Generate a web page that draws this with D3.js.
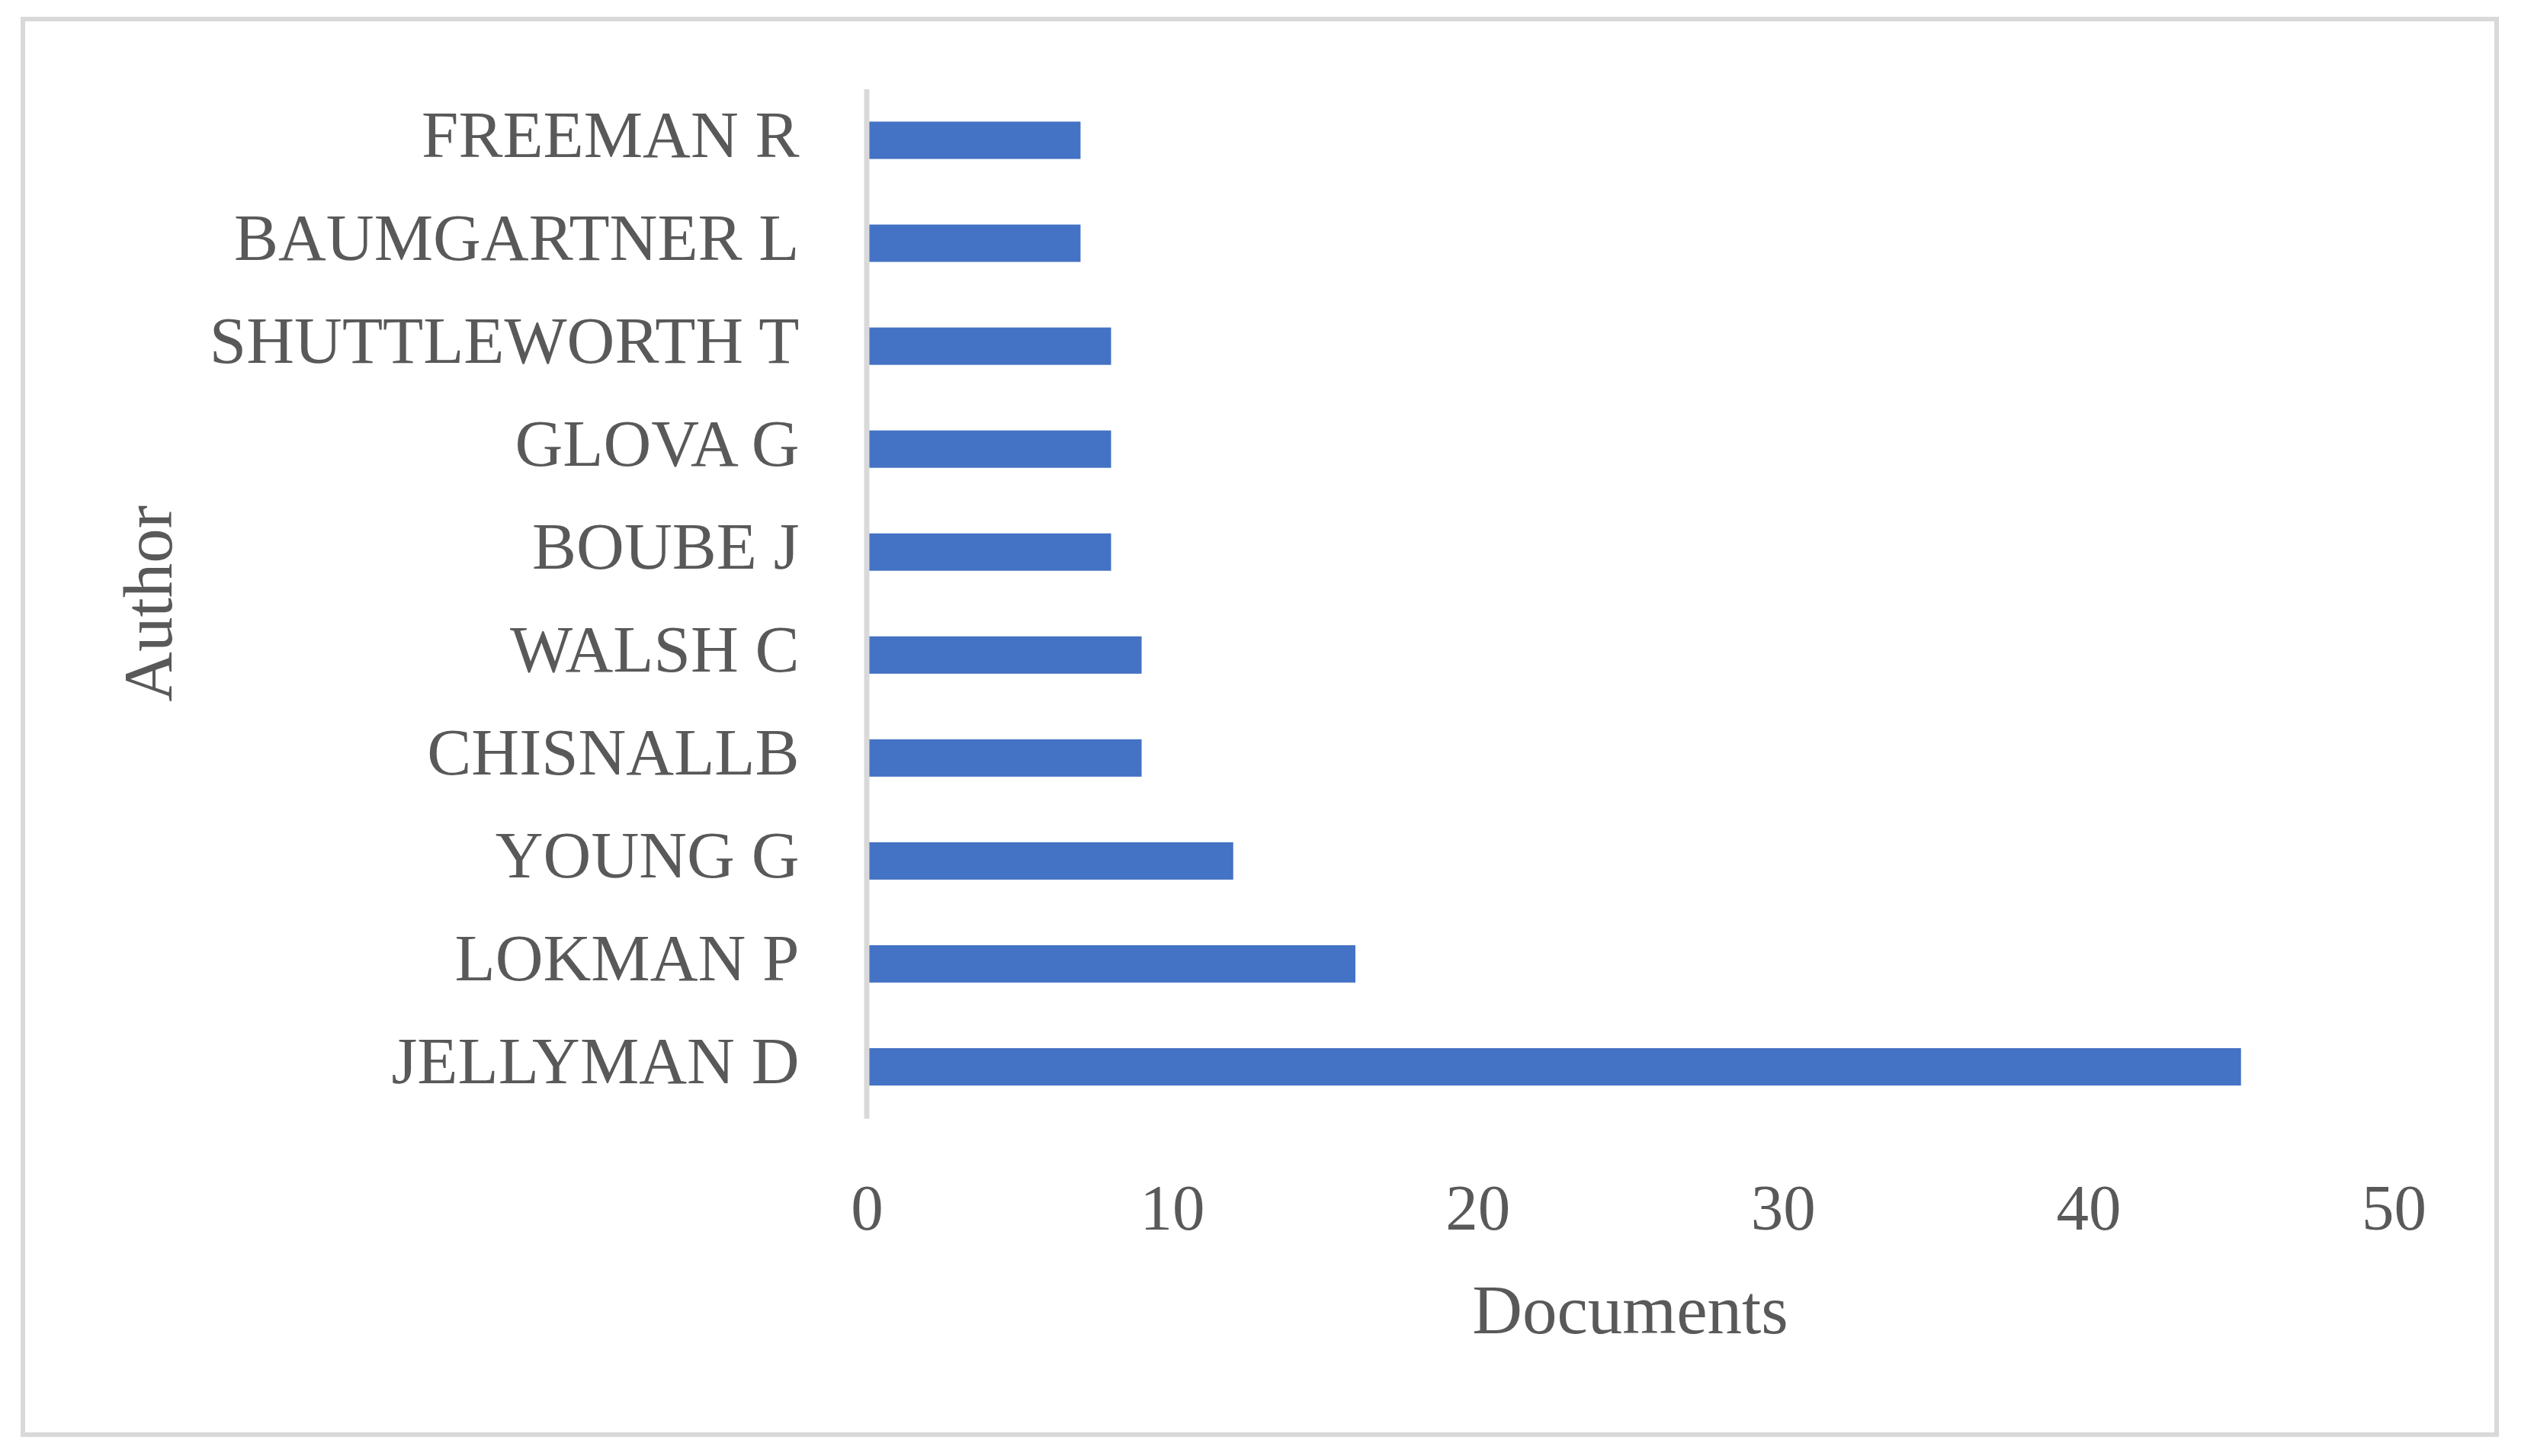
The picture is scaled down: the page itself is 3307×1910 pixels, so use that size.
<!DOCTYPE html>
<html>
<head>
<meta charset="utf-8">
<script src="https://cdn.jsdelivr.net/npm/d3@7"></script>
<style>
  html, body { margin: 0; padding: 0; background: #ffffff; }
  svg { display: block; }
</style>
</head>
<body>
<script>
// ---- data ----
const authors = ["FREEMAN R", "BAUMGARTNER L", "SHUTTLEWORTH T", "GLOVA G", "BOUBE J",
                 "WALSH C", "CHISNALLB", "YOUNG G", "LOKMAN P", "JELLYMAN D"];
const documents = [7, 7, 8, 8, 8, 9, 9, 12, 16, 45];
const xTicks = [0, 10, 20, 30, 40, 50];
const xTitle = "Documents";
const yTitle = "Author";

// ---- layout ----
const W = 3307, H = 1910;
const plot = { left: 1137, right: 3140, top: 116.5, bottom: 1467 };
const FONT = '"Palatino Linotype", "Book Antiqua", Palatino, "Liberation Serif", serif';
const TEXT = "#595959";
const GRID = "#d9d9d9";
const BAR = "#4472c4";

const svg = d3.select("body").append("svg")
  .attr("width", W).attr("height", H)
  .style("font-family", FONT);

svg.append("rect").attr("x", 0).attr("y", 0).attr("width", W).attr("height", H).attr("fill", "#fff");

// outer chart border
svg.append("rect")
  .attr("x", 30).attr("y", 25).attr("width", 3245).attr("height", 1857)
  .attr("fill", "none").attr("stroke", GRID).attr("stroke-width", 6);

const x = d3.scaleLinear().domain([0, 50]).range([plot.left, plot.right]);
const y = d3.scaleBand().domain(authors).range([plot.top, plot.bottom])
  .paddingInner(0.637).paddingOuter(0.3185);

const data = authors.map((a, i) => ({ author: a, value: documents[i] }));

// bars
svg.append("g").selectAll("rect").data(data).join("rect")
  .attr("x", x(0))
  .attr("y", d => y(d.author))
  .attr("width", d => x(d.value) - x(0))
  .attr("height", y.bandwidth())
  .attr("fill", BAR);

// left axis (category labels + vertical line)
const gy = svg.append("g")
  .attr("transform", `translate(${plot.left - 0.5},0)`)
  .call(d3.axisLeft(y).tickSize(0).tickSizeOuter(0).tickPadding(88));
gy.select(".domain").attr("stroke", GRID).attr("stroke-width", 7);
gy.selectAll(".tick text")
  .attr("fill", TEXT)
  .style("font-size", "87px")
  .style("font-family", FONT)
  .attr("dy", 22);

// bottom axis (numbers)
const gx = svg.append("g")
  .attr("transform", `translate(0,${plot.bottom})`)
  .call(d3.axisBottom(x).tickValues(xTicks).tickSize(0).tickFormat(d3.format("d")));
gx.select(".domain").remove();
gx.selectAll(".tick text")
  .attr("fill", TEXT)
  .style("font-size", "85px")
  .style("font-family", FONT)
  .attr("y", 1613 - plot.bottom)
  .attr("dy", 0);

// axis titles
svg.append("text")
  .attr("x", (plot.left + plot.right) / 2)
  .attr("y", 1749)
  .attr("text-anchor", "middle")
  .attr("fill", TEXT)
  .style("font-size", "91px")
  .text(xTitle);

svg.append("text")
  .attr("transform", `translate(225,${(plot.top + plot.bottom) / 2}) rotate(-90)`)
  .attr("text-anchor", "middle")
  .attr("fill", TEXT)
  .style("font-size", "91px")
  .text(yTitle);
</script>
</body>
</html>
